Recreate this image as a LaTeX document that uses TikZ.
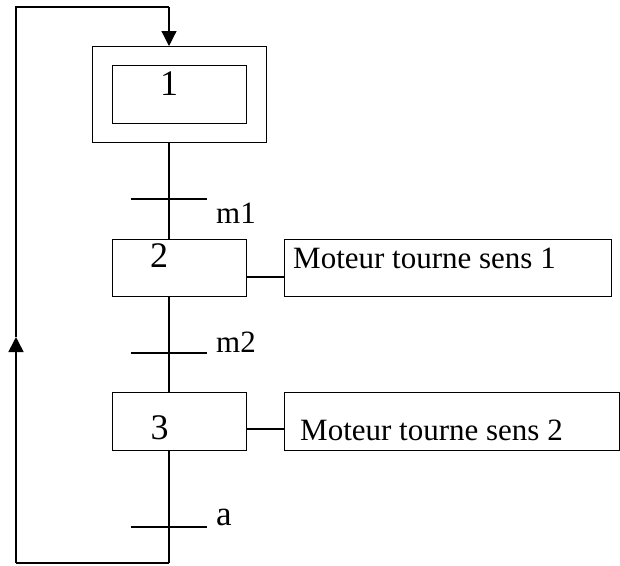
\documentclass[tikz,border=0pt]{standalone}
\usepackage{fontspec}
\setmainfont{Liberation Serif}
\usetikzlibrary{arrows.meta}
\begin{document}
\begin{tikzpicture}[x=1pt,y=-1pt,
  box/.style={draw, line width=1.2pt, inner sep=0pt, anchor=north west},
  lbl/.style={font=\fontsize{31}{31}\selectfont, inner sep=0pt, anchor=base west},
  num/.style={font=\fontsize{36}{36}\selectfont, inner sep=0pt, anchor=base},
  trans/.style={inner sep=0pt, minimum width=76pt, minimum height=0pt},
  ln/.style={line width=1.2pt},
  loopln/.style={line width=1.6pt},
  arr/.style={-{Triangle[length=15pt,width=15pt]}}]
\useasboundingbox (0,0) rectangle (620,565);
% steps
\node[box, minimum width=174pt, minimum height=96pt] (s1) at (92,46) {};
\node[box, minimum width=134pt, minimum height=58pt] (s1i) at (112,65) {};
\node[box, minimum width=134pt, minimum height=57pt] (s2) at (112,239) {};
\node[box, minimum width=327pt, minimum height=57pt] (a1) at (284,239) {};
\node[box, minimum width=134pt, minimum height=58pt] (s3) at (112,392) {};
\node[box, minimum width=335pt, minimum height=58pt] (a2) at (284,392) {};
% texts
\node[num] (n1) at (169,95) {1};
\node[num] (n2) at (159,267) {2};
\node[num] (n3) at (159.5,439) {3};
\node[lbl] (x1) at (293,268) {Moteur tourne sens 1};
\node[lbl] (x2) at (300,440) {Moteur tourne sens 2};
% transitions
\node[trans] (t1) at (169,199) {};
\node[trans] (t2) at (169,353) {};
\node[trans] (t3) at (169,527) {};
\draw[ln] (t1.west) -- (t1.east);
\draw[ln] (t2.west) -- (t2.east);
\draw[ln] (t3.west) -- (t3.east);
\node[lbl] (m1) at (216,223) {m1};
\node[lbl] (m2) at (216,352) {m2};
\node[lbl, font=\fontsize{35}{35}\selectfont] (ta) at (216,525) {a};
% vertical links
\coordinate (v) at (169,0);
\draw[ln] (s1.south -| v) -- (s2.north -| v);
\draw[ln] (s2.south -| v) -- (s3.north -| v);
% actions connectors
\coordinate (r1) at (0,277);
\coordinate (r2) at (0,429);
\draw[ln] (s2.east |- r1) -- (a1.west |- r1);
\draw[ln] (s3.east |- r2) -- (a2.west |- r2);
% loop
\coordinate (br) at (169,563);
\coordinate (bl) at (16,563);
\coordinate (mid) at (16,337);
\coordinate (tl) at (16,7);
\coordinate (tr) at (169,7);
\draw[ln] (s3.south -| v) -- (br);
\draw[loopln] (br) -- (bl);
\draw[loopln, arr] (bl) -- (mid);
\draw[loopln] (mid) -- (tl) -- (tr);
\draw[ln, arr] (tr) -- (s1.north -| v);
\end{tikzpicture}
\end{document}
